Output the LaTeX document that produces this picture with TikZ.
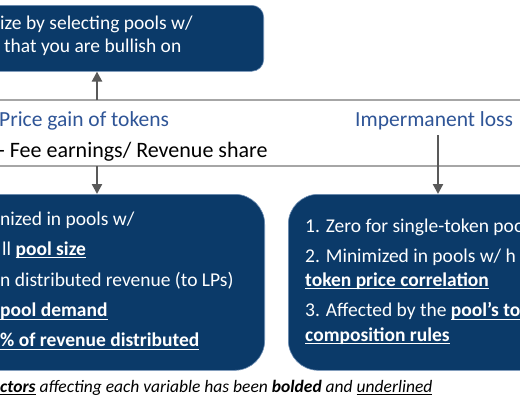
\documentclass[tikz,border=0pt]{standalone}
\usepackage{fontspec}
\setmainfont{Carlito}
\usetikzlibrary{arrows.meta}
\definecolor{navy}{HTML}{0B3A69}
\definecolor{navyedge}{HTML}{6F8FB5}
\definecolor{ttlblue}{HTML}{2F5597}
\definecolor{linegray}{HTML}{A6A6A6}
\definecolor{arrgray}{HTML}{595959}
\newcommand\ulb[1]{\setbox0\hbox{#1}\rlap{\rule[-3.4pt]{\wd0}{1.4pt}}#1}
\newcommand\uli[1]{\setbox0\hbox{#1}\rlap{\rule[-3pt]{\wd0}{1pt}}#1}
\tikzset{
  navybox/.style={fill=navy, draw=navyedge, line width=0.6pt, inner sep=0pt},
  boxtxt/.style={anchor=base west, inner sep=0pt, text=white, font=\fontsize{19.5}{23}\selectfont},
  ttl/.style={anchor=base west, inner sep=0pt, text=ttlblue, font=\fontsize{21.5}{25}\selectfont},
  plain/.style={anchor=base west, inner sep=0pt, text=black, font=\fontsize{22}{25}\selectfont},
  sep/.style={draw=linegray, line width=1.1pt},
  arr/.style={draw=arrgray, line width=2.3pt, -{Triangle[length=10pt,width=10pt]}},
  captxt/.style={anchor=base west, inner sep=0pt, text=black, font=\fontsize{17.5}{21}\selectfont\itshape}
}
\begin{document}
\begin{tikzpicture}[x=1pt,y=-1pt]
\useasboundingbox (0,0) rectangle (520,400);
\fill[white] (0,0) rectangle (520,400);

% boxes
\node[navybox, rounded corners=12pt, minimum width=300pt, minimum height=66pt, anchor=north east] (topbox) at (264,5) {};
\node[navybox, rounded corners=30pt, minimum width=330pt, minimum height=176pt, anchor=north east] (leftbox) at (265,194) {};
\node[navybox, rounded corners=30pt, minimum width=300pt, minimum height=176pt, anchor=north west] (rightbox) at (288,194) {};

% top box text
\node[boxtxt] (t1) at (0,29) {ize by selecting pools w/};
\node[boxtxt] (t2) at (4,52) {that you are bullish on};

% separator lines
\coordinate (s1a) at (0,100);
\coordinate (s1b) at (520,100);
\coordinate (s2a) at (0,166);
\coordinate (s2b) at (520,166);
\draw[sep] (s1a) -- (s1b);
\draw[sep] (s2a) -- (s2b);

% middle texts
\node[ttl] (price) at (-1,126.5) {Price gain of tokens};
\node[ttl] (imp) at (355,126.5) {Impermanent loss};
\node[plain] (fee) at (-2,157.5) {- Fee earnings/ Revenue share};

% arrows
\coordinate (upstart) at (97,100);
\draw[arr] (upstart) -- (upstart |- topbox.south);
\coordinate (dnstart) at (97,166);
\draw[arr] (dnstart) -- (dnstart |- leftbox.north);
\coordinate (impstart) at (438,135);
\draw[arr] (impstart) -- (impstart |- rightbox.north);

% left box text
\node[boxtxt] (l1) at (0,225) {nized in pools w/};
\node[boxtxt] (l2) at (2,255) {ll \ulb{\textbf{pool size}}};
\node[boxtxt] (l3) at (0,286) {n distributed revenue (to LPs)};
\node[boxtxt] (l4) at (0,316.5) {\ulb{\textbf{pool demand}}};
\node[boxtxt] (l5) at (0,346.5) {\ulb{\textbf{\% of revenue distributed}}};

% right box text
\node[boxtxt] (r1) at (305,232) {1. Zero for single-token poo};
\node[boxtxt] (r2) at (305,262) {2. Minimized in pools w/ h};
\node[boxtxt] (r3) at (305,286) {\ulb{\textbf{token price correlation}}};
\node[boxtxt] (r4) at (305,316.5) {3. Affected by the \ulb{\textbf{pool’s to}}};
\node[boxtxt] (r5) at (305,341) {\ulb{\textbf{composition rules}}};

% caption
\node[captxt] (caption) at (0,392) {\uli{\textbf{ctors}} affecting each variable has been \textbf{bolded} and \uli{underlined}};
\end{tikzpicture}
\end{document}
